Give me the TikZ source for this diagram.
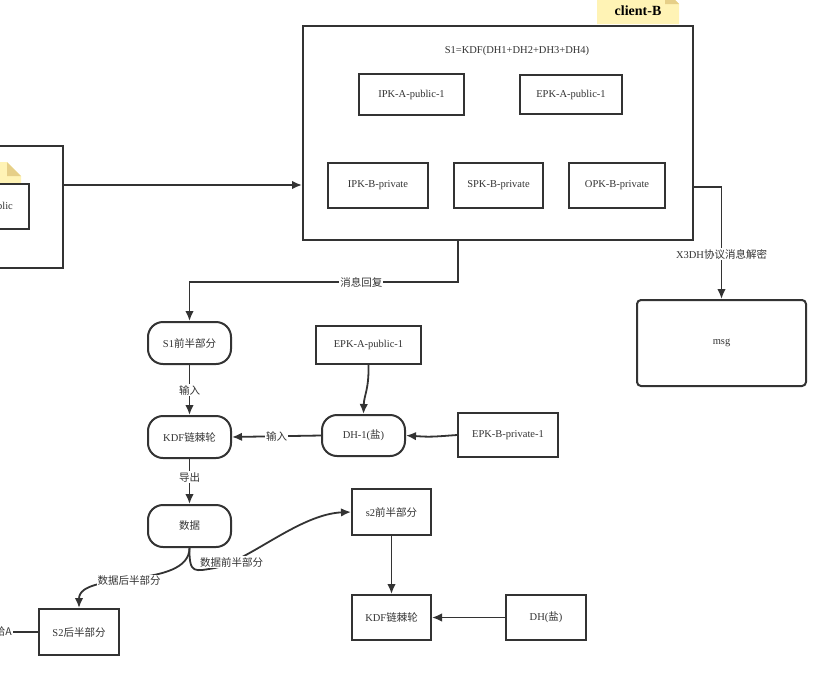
\documentclass[tikz,border=0pt]{standalone}
\usepackage{fontspec}
\setmainfont{Liberation Serif}
\newfontfamily\cjk{Noto Sans CJK SC}
\usetikzlibrary{arrows.meta,calc}
\definecolor{linec}{HTML}{333333}
\definecolor{notey}{HTML}{FFF3B5}
\definecolor{notefold}{HTML}{E6CF88}
\newcommand{\zhtxt}[1]{{\cjk #1}}

\tikzset{
  keybox/.style={draw=linec, line width=2pt, fill=white, inner sep=0pt, text=linec,
    font=\fontsize{10.5}{12}\selectfont},
  roundbox/.style={keybox, rounded corners=15pt, minimum width=83pt, minimum height=42pt},
  conn/.style={draw=linec, line width=1.8pt},
  arr/.style={conn, -{Latex[length=10pt,width=8.5pt]}},
  lbl/.style={fill=white, inner sep=1pt, text=linec, font=\fontsize{10.5}{12}\selectfont},
}

\begin{document}
\begin{tikzpicture}[x=1pt,y=-1pt]
   \useasboundingbox (0,0) rectangle (838,683);

   % client-A (cut off at the left edge)
   \node[keybox, minimum width=206pt, minimum height=122pt] (ca) at (-40,207) {};
   \fill[notey] (-60,184) -- (-60,162) -- (7,162) -- (21,176) -- (21,184) -- cycle;
   \fill[notefold] (7,162) -- (21,176) -- (7,176) -- cycle;
   \node[keybox, minimum width=90pt, minimum height=45pt] (caipk) at (-16,206.5) {IPK-A-public};

   % client-B
   \fill[notey] (597,24) -- (597,-10) -- (665,-10) -- (679,4) -- (679,24) -- cycle;
   \fill[notefold] (665,-10) -- (679,4) -- (665,4) -- cycle;
   \node[text=black, font=\fontsize{14}{16}\selectfont\bfseries] (clientB) at (638,11) {client-B};
   \node[keybox, minimum width=390pt, minimum height=214pt] (cb) at (498,133) {};
   \node[text=linec, font=\fontsize{10.5}{12}\selectfont] (s1kdf) at (517,51) {S1=KDF(DH1+DH2+DH3+DH4)};
   \node[keybox, minimum width=105pt, minimum height=41pt] (ipka) at (411.5,94.5) {IPK-A-public-1};
   \node[keybox, minimum width=102pt, minimum height=39pt] (epka) at (571,94.5) {EPK-A-public-1};
   \node[keybox, minimum width=100pt, minimum height=45pt] (ipkb) at (378,185.5) {IPK-B-private};
   \node[keybox, minimum width=89pt, minimum height=45pt] (spkb) at (498.5,185.5) {SPK-B-private};
   \node[keybox, minimum width=96pt, minimum height=45pt] (opkb) at (617,185.5) {OPK-B-private};

   \node[keybox, rounded corners=4pt, minimum width=169pt, minimum height=86pt] (msg) at (721.5,343) {msg};

   % chain on the left
   \node[roundbox] (s1half) at (189.5,343) {S1\zhtxt{前半部分}};
   \node[roundbox] (kdfa) at (189.5,437) {KDF\zhtxt{链棘轮}};
   \node[roundbox] (data) at (189.5,526) {\zhtxt{数据}};
   \node[roundbox, minimum height=41pt] (dha) at (363.5,435.5) {DH-1(\zhtxt{盐})};
   \node[keybox, minimum width=105pt, minimum height=38pt] (epkatwo) at (368.5,345) {EPK-A-public-1};
   \node[keybox, minimum width=100pt, minimum height=44pt] (epkbtwo) at (508,435) {EPK-B-private-1};
   \node[keybox, minimum width=80pt, minimum height=46pt] (s2back) at (79,632) {S2\zhtxt{后半部分}};
   \node[keybox, minimum width=79pt, minimum height=46pt] (s2front) at (391.5,512) {s2\zhtxt{前半部分}};
   \node[keybox, minimum width=79pt, minimum height=45pt] (kdfb) at (391.5,617.5) {KDF\zhtxt{链棘轮}};
   \node[keybox, minimum width=80pt, minimum height=45pt] (dhb) at (546,617.5) {DH(\zhtxt{盐})};
   \node[lbl, anchor=east] (toa) at (13,632) {\zhtxt{给A}};

   % connectors
   \draw[arr] ([yshift=22pt]ca.east) -- ([yshift=22pt]ca.east -| cb.west);
   \draw[arr] ([xshift=-40pt]cb.south) -- ++(0,41) -| node[lbl, pos=0.18] {\zhtxt{消息回复}} (s1half.north);
   \draw[arr] ([yshift=-54pt]cb.east) -| node[lbl, pos=0.8] {X3DH\zhtxt{协议消息解密}} (msg.north);
   \draw[arr] (s1half) -- node[lbl] {\zhtxt{输入}} (kdfa);
   \draw[arr] (epkatwo.south) .. controls (369,390) and (364,395) .. (dha.north);
   \draw[arr] (epkbtwo.west) .. controls (430,437) .. (dha.east);
   \draw[arr] (dha.west) -- node[lbl] {\zhtxt{输入}} (kdfa.east);
   \draw[arr] (kdfa) -- node[lbl, pos=0.4] {\zhtxt{导出}} (data);
   \draw[arr] (data.south) .. controls (189,590) and (79,570) .. node[lbl, pos=0.53] {\zhtxt{数据后半部分}} (s2back.north);
   \draw[arr] (data.south) .. controls (189,575) and (195,571) .. (215,568)
      .. controls (250,560) and (300,514) .. node[lbl, pos=0.15] {\zhtxt{数据前半部分}} (s2front.west);
   \draw[arr] (s2front) -- (kdfb);
   \draw[arr] (dhb) -- (kdfb);
   \draw[conn] (s2back.west) -- (toa.east);
\end{tikzpicture}
\end{document}
